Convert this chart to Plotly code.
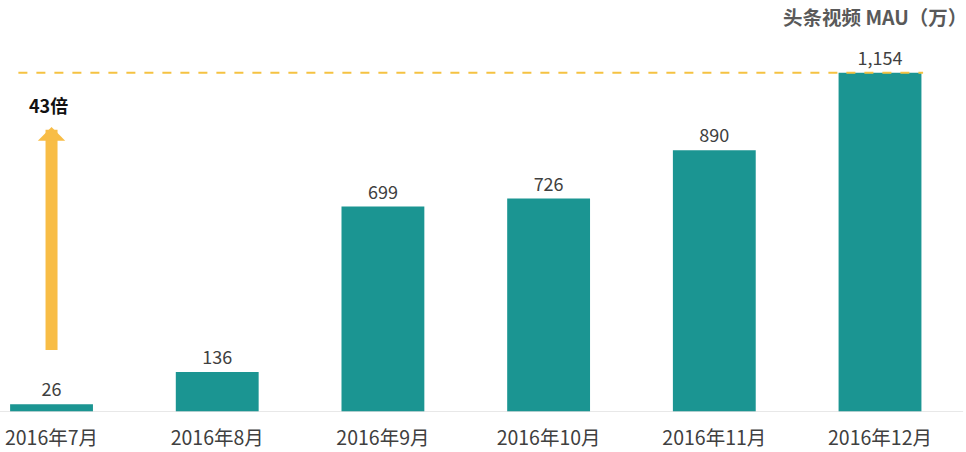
import plotly.graph_objects as go

categories = ["2016年7月", "2016年8月", "2016年9月", "2016年10月", "2016年11月", "2016年12月"]
mau = [26, 136, 699, 726, 890, 1154]
labels = ["26", "136", "699", "726", "890", "1,154"]
growth_text = "43倍"
title_text = "头条视频 MAU（万）"

xs = list(range(len(categories)))
font = "Noto Sans CJK SC, Noto Sans, sans-serif"

fig = go.Figure()
fig.add_trace(go.Bar(
    x=xs, y=mau, width=0.5,
    marker=dict(color="#1b9592", line=dict(width=0)),
    text=labels, textposition="outside", cliponaxis=False,
    textfont=dict(size=18, color="#404040", family=font),
    hoverinfo="skip",
))

# dashed max line
fig.add_shape(type="line", xref="x", yref="y", layer="above",
              x0=-0.2, x1=5.26, y0=mau[-1], y1=mau[-1],
              line=dict(color="#f5c242", width=2, dash="dash"))

# growth arrow
fig.add_annotation(x=0, y=mau[-1] * 0.84, ax=0, ay=mau[0] * 7.9,
                   xref="x", yref="y", axref="x", ayref="y",
                   showarrow=True, arrowhead=1, arrowsize=0.38, arrowwidth=12,
                   arrowcolor="#f8bd46", text="")
fig.add_annotation(x=-0.02, y=mau[-1] * 0.905, xref="x", yref="y",
                   text="<b>" + growth_text + "</b>", showarrow=False,
                   font=dict(size=18, color="#111111", family=font))

fig.add_annotation(x=1, y=1, xref="paper", yref="paper", xanchor="right", yanchor="bottom",
                   yshift=38, xshift=3,
                   text="<b>" + title_text + "</b>", showarrow=False,
                   font=dict(size=19.5, color="#595959", family=font))

fig.update_layout(
    width=966, height=452,
    margin=dict(l=0, r=0, t=71, b=40),
    plot_bgcolor="white", paper_bgcolor="white",
    showlegend=False, bargap=0.5,
    xaxis=dict(range=[-0.311, 5.519], tickvals=xs, ticktext=categories,
               showgrid=False, zeroline=False, showline=False, ticks="",
               ticklabelstandoff=12,
               tickfont=dict(size=19.5, color="#404040", family=font)),
    yaxis=dict(range=[0, 1160], visible=False, showgrid=False, zeroline=False),
)
# baseline
fig.add_shape(type="line", xref="paper", yref="y", x0=0, x1=0.997, y0=0, y1=0,
              line=dict(color="#e0e0e0", width=1.5))

fig.write_html("out.html", config={"displayModeBar": False},
               post_script="document.body.style.margin='0';")
